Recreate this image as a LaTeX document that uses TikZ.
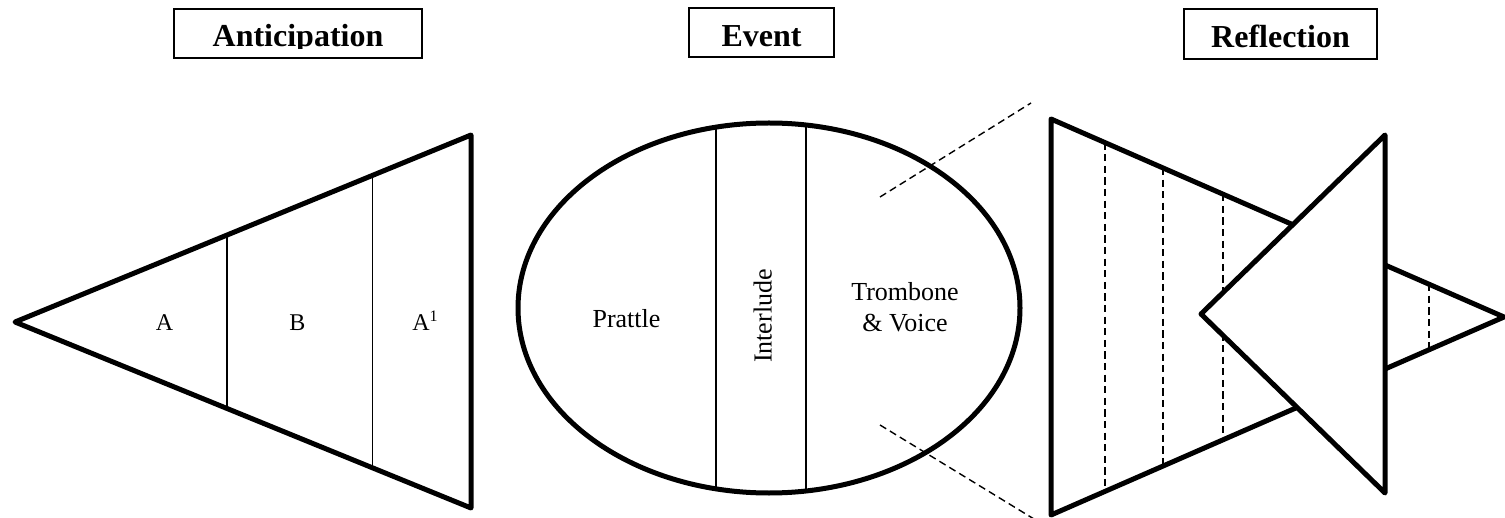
\documentclass[tikz,border=0pt]{standalone}
\usepackage{fontspec}
\setmainfont{Liberation Serif}
\usetikzlibrary{calc,shapes.geometric}
\begin{document}
\begin{tikzpicture}[x=0.5pt,y=-0.5pt,
  outline/.style={line width=2.5pt, line join=round},
  divider/.style={line width=0.8pt},
  dashline/.style={line width=0.7pt, dash pattern=on 3.6pt off 2.2pt},
  titlebox/.style={draw, line width=0.7pt, inner sep=0pt, outer sep=0pt},
  titletext/.style={font=\fontsize{16}{19}\selectfont\bfseries, inner sep=0pt, anchor=base},
  seclabel/.style={font=\fontsize{12}{14}\selectfont, inner sep=0pt, anchor=base},
  evlabel/.style={font=\fontsize{13}{15.5}\selectfont, inner sep=0pt, anchor=base}]
\useasboundingbox (0,0) rectangle (1505,518);

% ---- title boxes (text cut off at the lower part of each box)
\node[titlebox, minimum width=124pt, minimum height=24.5pt] (antbox) at (298,33.5) {};
\node[titlebox, minimum width=72.5pt, minimum height=24.5pt] (evbox) at (761.5,32.5) {};
\node[titlebox, minimum width=96.5pt, minimum height=25pt] (refbox) at (1280.5,34) {};
\begin{scope}
  \clip ($(antbox.south west)+(0,-9.5)$) rectangle (antbox.north east);
  \node[titletext] (anttext) at (298,47) {Anticipation};
\end{scope}
\begin{scope}
  \clip ($(evbox.south west)+(0,-9.5)$) rectangle (evbox.north east);
  \node[titletext] (evtext) at (761.5,47) {Event};
\end{scope}
\begin{scope}
  \clip ($(refbox.south west)+(0,-10)$) rectangle (refbox.north east);
  \node[titletext] (reftext) at (1280.5,48) {Reflection};
\end{scope}

% ---- anticipation: wedge opening to the right
\coordinate (Lapex) at (15,322);
\coordinate (Ltop) at (471,135);
\coordinate (Lbot) at (471,508);
\draw[divider] ($(Lapex)!0.465!(Ltop)$) -- ($(Lapex)!0.465!(Lbot)$);
\draw[divider] ($(Lapex)!0.784!(Ltop)$) -- ($(Lapex)!0.784!(Lbot)$);
\draw[outline] (Lapex) -- (Ltop) -- (Lbot) -- cycle;
\node[seclabel] (secA) at (164.5,330) {A};
\node[seclabel] (secB) at (297.5,330) {B};
\node[seclabel] (secA1) at (425.5,330) {A\textsuperscript{1}};

% ---- event: ellipse in three parts
\begin{scope}
  \clip (769,308) ellipse [x radius=125.5pt, y radius=92.5pt];
  \draw[divider] (716,100) -- (716,520);
  \draw[divider] (806,100) -- (806,520);
\end{scope}
\node[draw, ellipse, line width=2.5pt, inner sep=0pt, minimum width=251pt, minimum height=185pt] (event) at (769,308) {};
\node[evlabel] (prattle) at (626.5,328) {Prattle};
\node[evlabel, rotate=90] (interlude) at (771.5,316) {Interlude};
\node[evlabel] (trombone) at (905,301) {Trombone};
\node[evlabel] (voice) at (905,332) {\& Voice};

% ---- dashed guides towards the reflection figure
\coordinate (ua) at (880,197);
\coordinate (ub) at (1031,103);
\coordinate (la) at (880,425);
\coordinate (lb) at (1034,519);
\draw[dashline] (ua) -- (ub);
\draw[dashline] (la) -- (lb);

% ---- reflection: large wedge with a reversed wedge laid over it
\coordinate (Rtl) at (1051,119);
\coordinate (Rbl) at (1051,515);
\coordinate (Rapex) at (1504,317);
\draw[outline] (Rtl) -- (Rapex) -- (Rbl) -- cycle;
\foreach \f in {0.119,0.247,0.380,0.834}
  \draw[dashline] ($(Rtl)!\f!(Rapex)$) -- ($(Rbl)!\f!(Rapex)$);
\coordinate (Wapex) at (1201,314);
\coordinate (Wtop) at (1385,135);
\coordinate (Wbot) at (1385,493);
\draw[outline, fill=white] (Wapex) -- (Wtop) -- (Wbot) -- cycle;
\end{tikzpicture}
\end{document}
